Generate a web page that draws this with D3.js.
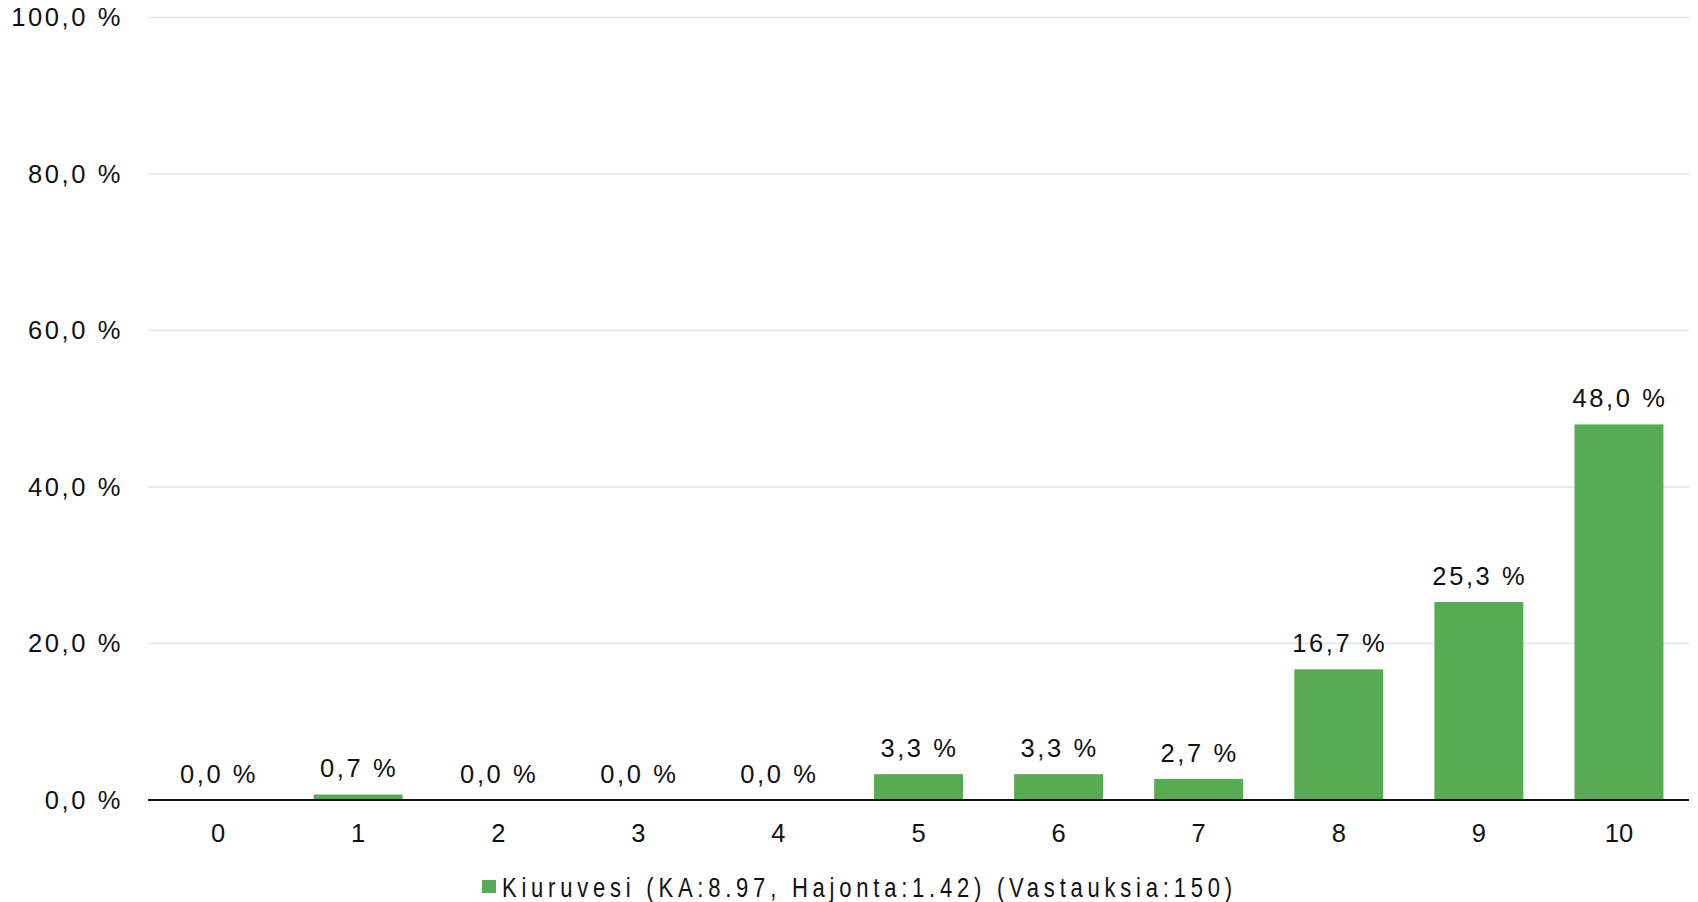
<!DOCTYPE html>
<html><head><meta charset="utf-8">
<script src="https://cdn.jsdelivr.net/npm/d3@7/dist/d3.min.js"></script>
<style>
html,body{margin:0;padding:0;background:#fff;}
svg text{font-family:"Liberation Sans",Arial,sans-serif;fill:#111;}
</style></head>
<body>
<svg id="chart" width="1698" height="902"></svg>
<script>
const categories = ["0","1","2","3","4","5","6","7","8","9","10"];
const values = [0.0, 0.7, 0.0, 0.0, 0.0, 3.3, 3.3, 2.7, 16.7, 25.3, 48.0];
const yTicks = [0, 20, 40, 60, 80, 100];
const seriesName = "Kiuruvesi (KA:8.97, Hajonta:1.42) (Vastauksia:150)";

(function () {
const svg = d3.select("#chart");
const pLeft = 148, pRight = 1689, pTop = 17.5, pBottom = 800;
const fmt = v => d3.format(".1f")(v).replace(".", ",") + " %";

const x = d3.scaleBand().domain(categories).range([pLeft, pRight]).paddingInner(0.365).paddingOuter(0.1825);
const y = d3.scaleLinear().domain([0, 100]).range([pBottom, pTop]);

svg.append("g").selectAll("line").data(yTicks.filter(d => d > 0)).join("line")
  .attr("x1", pLeft).attr("x2", pRight)
  .attr("y1", d => y(d)).attr("y2", d => y(d))
  .attr("stroke", "#dbe5f1").attr("stroke-width", 1.5);

svg.append("g").selectAll("text").data(yTicks).join("text")
  .attr("x", 123).attr("y", d => y(d)).attr("dy", "0.35em")
  .attr("text-anchor", "end").attr("font-size", 25.5).attr("letter-spacing", 2.6)
  .text(d => fmt(d));

svg.append("g").selectAll("rect").data(values).join("rect")
  .attr("x", (d, i) => x(categories[i]))
  .attr("width", x.bandwidth())
  .attr("y", d => y(d))
  .attr("height", d => pBottom - y(d))
  .attr("fill", "#57ab52");

svg.append("line").attr("x1", pLeft).attr("x2", pRight).attr("y1", pBottom).attr("y2", pBottom)
  .attr("stroke", "#111").attr("stroke-width", 2);

svg.append("g").selectAll("text").data(values).join("text")
  .attr("x", (d, i) => x(categories[i]) + x.bandwidth() / 2 + 1)
  .attr("y", d => y(d) - 26).attr("dy", "0.35em")
  .attr("text-anchor", "middle").attr("font-size", 25.5).attr("letter-spacing", 2.6)
  .text(d => fmt(d));

svg.append("g").selectAll("text").data(categories).join("text")
  .attr("x", d => x(d) + x.bandwidth() / 2)
  .attr("y", 833).attr("dy", "0.35em")
  .attr("text-anchor", "middle").attr("font-size", 25.5)
  .text(d => d);

const lg = svg.append("g");
lg.append("rect").attr("x", 482).attr("y", 880).attr("width", 14).attr("height", 13).attr("fill", "#57ab52");
lg.append("text").attr("transform", "translate(502,887) scale(0.8,1)").attr("dy", "0.35em")
  .attr("font-size", 27.5).attr("textLength", 730 / 0.8).attr("lengthAdjust", "spacing")
  .text(seriesName);
})();
</script>
</body></html>
